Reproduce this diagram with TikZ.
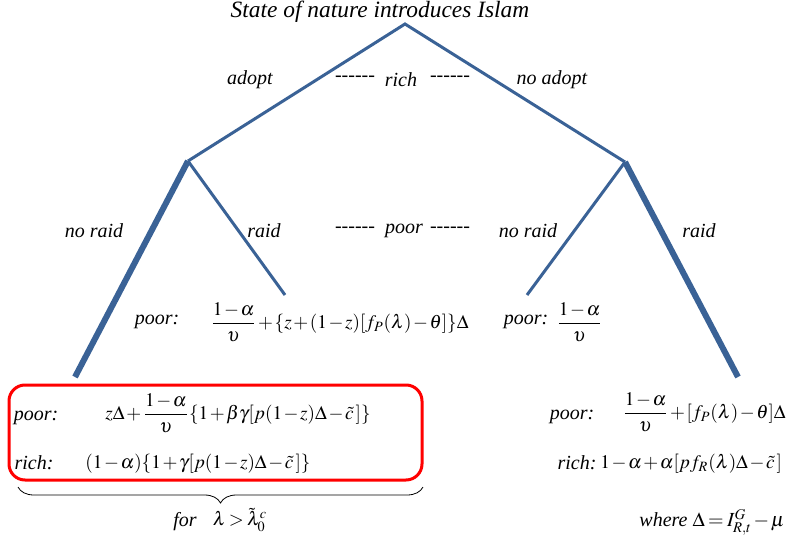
\documentclass[tikz,border=0pt]{standalone}
\usepackage{mathptmx}
\usepackage{fontspec}
\setmainfont{Liberation Serif}
\usetikzlibrary{decorations.pathreplacing}
\definecolor{treeblue}{RGB}{58,98,150}
\definecolor{boxred}{RGB}{255,0,0}
\newcommand{\dashrule}{-{}-{}-{}-{}-{}-}
\tikzset{
  branch/.style={line width=1.5pt, draw=treeblue},
  heavy/.style={line width=3pt, draw=treeblue},
  lab/.style={font=\fontsize{10}{12}\selectfont\itshape, inner sep=0pt},
  pay/.style={inner sep=0pt, font=\fontsize{9.6}{11.5}\selectfont,
    execute at begin node={\medmuskip=1.5mu\thickmuskip=3mu}},
}
\begin{document}
\begin{tikzpicture}[x=0.5pt, y=-0.5pt]
\useasboundingbox (0,0) rectangle (797,540);

% game tree
\coordinate (root) at (405,24);
\coordinate (adopt) at (188,161);
\coordinate (noadopt) at (625,162);
\coordinate (lnoraid) at (75,377);
\coordinate (lraid) at (285,295);
\coordinate (rnoraid) at (527,295);
\coordinate (rraid) at (738,377);

\draw[branch] (adopt) -- (root) -- (noadopt);
\draw[heavy] (adopt) -- (lnoraid);
\draw[branch] (adopt) -- (lraid);
\draw[branch] (noadopt) -- (rnoraid);
\draw[heavy] (noadopt) -- (rraid);

\node[lab, font=\fontsize{11.7}{14}\selectfont\itshape] (title) at (380,12) {State of nature introduces Islam};
\node[lab] (adoptlab) at (250,80) {adopt};
\node[lab] (dash1) at (355,79) {\dashrule};
\node[lab] (rich) at (401,80) {rich};
\node[lab] (dash2) at (450,79) {\dashrule};
\node[lab] (noadoptlab) at (552,80) {no adopt};

\node[lab] (noraid1) at (94,231) {no raid};
\node[lab] (raid1) at (264,231) {raid};
\node[lab] (dash3) at (355,230) {\dashrule};
\node[lab] (poor) at (404,231) {poor};
\node[lab] (dash4) at (450,230) {\dashrule};
\node[lab] (noraid2) at (528,231) {no raid};
\node[lab] (raid2) at (699,231) {raid};

% payoffs after raid / no raid
\node[lab] (p1) at (157,322) {poor:};
\node[pay, anchor=west] (f1) at (210,322)
  {$\displaystyle\frac{1-\alpha}{\upsilon}+\{z+(1-z)[f_P(\lambda)-\theta]\}\Delta$};
\node[lab] (p2) at (526,322) {poor:};
\node[pay, anchor=west] (f2) at (556,322) {$\displaystyle\frac{1-\alpha}{\upsilon}$};

% boxed payoffs
\draw[boxred, line width=1.5pt, rounded corners=8pt] (9,385) rectangle (422,480);
\node[lab] (p3) at (36,418) {poor:};
\node[pay, anchor=east] (f3) at (371,413)
  {$\displaystyle z\Delta+\frac{1-\alpha}{\upsilon}\{1+\beta\gamma[p(1-z)\Delta-\tilde{c}\,]\}$};
\node[lab] (r3) at (34,463) {rich:};
\node[pay, anchor=west] (g3) at (85,464)
  {$(1-\alpha)\{1+\gamma[p(1-z)\Delta-\tilde{c}\,]\}$};

\node[lab] (p4) at (572,417) {poor:};
\node[pay, anchor=west] (f4) at (622,412)
  {$\displaystyle\frac{1-\alpha}{\upsilon}+[f_P(\lambda)-\theta]\Delta$};
\node[lab] (r4) at (577,463) {rich:};
\node[pay, anchor=west] (g4) at (600,464)
  {$1-\alpha+\alpha[pf_R(\lambda)\Delta-\tilde{c}\,]$};

% brace and conditions
\coordinate (braceL) at (18,487);
\coordinate (braceR) at (423,487);
\draw[decorate, decoration={brace, mirror, amplitude=8pt}] (braceL) -- (braceR);
\node[lab] (for) at (185,522) {for};
\node[pay] (cond) at (240,520) {$\lambda>\tilde{\lambda}_0^c$};
\node[pay, anchor=east] (where) at (785,522) {\fontsize{10}{12}\selectfont\itshape where $\Delta=I^G_{R,t}-\mu$};
\end{tikzpicture}
\end{document}
